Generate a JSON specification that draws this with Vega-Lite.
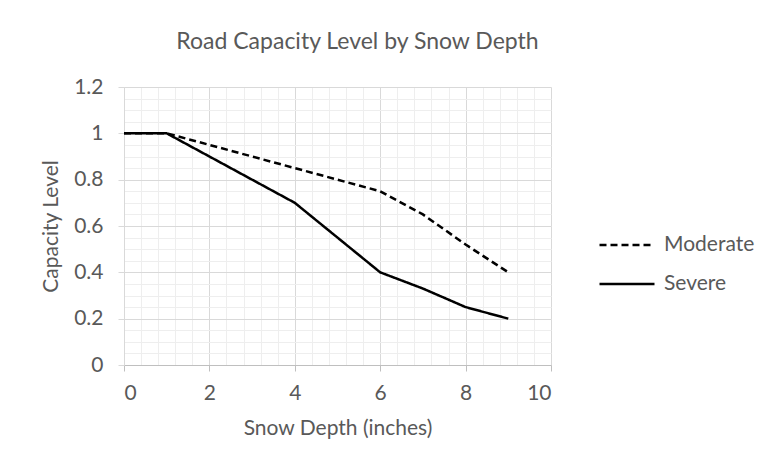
{
  "$schema": "https://vega.github.io/schema/vega-lite/v6.json",
  "width": 427,
  "height": 278,
  "autosize": {"type": "none"},
  "padding": {"left": 124, "top": 87, "right": 218, "bottom": 101},
  "background": "white",
  "title": {"text": "Road Capacity Level by Snow Depth", "fontSize": 23, "font": "Lato", "fontWeight": "normal", "color": "#595959", "anchor": "middle", "dx": 20, "offset": 22},
  "config": {"view": {"stroke": null}, "font": "Lato"},
  "data": {"values": [
    {"depth": 0, "capacity": 1, "series": "Moderate"},
    {"depth": 1, "capacity": 1, "series": "Moderate"},
    {"depth": 2, "capacity": 0.95, "series": "Moderate"},
    {"depth": 4, "capacity": 0.85, "series": "Moderate"},
    {"depth": 6, "capacity": 0.75, "series": "Moderate"},
    {"depth": 7, "capacity": 0.65, "series": "Moderate"},
    {"depth": 8, "capacity": 0.52, "series": "Moderate"},
    {"depth": 9, "capacity": 0.4, "series": "Moderate"},
    {"depth": 0, "capacity": 1, "series": "Severe"},
    {"depth": 1, "capacity": 1, "series": "Severe"},
    {"depth": 2, "capacity": 0.9, "series": "Severe"},
    {"depth": 4, "capacity": 0.7, "series": "Severe"},
    {"depth": 6, "capacity": 0.4, "series": "Severe"},
    {"depth": 7, "capacity": 0.33, "series": "Severe"},
    {"depth": 8, "capacity": 0.25, "series": "Severe"},
    {"depth": 9, "capacity": 0.2, "series": "Severe"}
  ]},
  "layer": [
    {
      "mark": {"type": "line", "opacity": 0},
      "encoding": {
        "x": {"field": "depth", "type": "quantitative", "scale": {"domain": [0, 10], "nice": false},
          "axis": {"orient": "bottom", "values": [0,0.4,0.8,1.2,1.6,2,2.4,2.8,3.2,3.6,4,4.4,4.8,5.2,5.6,6,6.4,6.8,7.2,7.6,8,8.4,8.8,9.2,9.6,10],
            "grid": true, "gridColor": "#eeeeee", "gridWidth": 1, "labels": false, "ticks": false, "domain": false, "title": null, "zindex": 0}},
        "y": {"field": "capacity", "type": "quantitative", "scale": {"domain": [0, 1.2], "nice": false},
          "axis": {"orient": "left", "values": [0,0.05,0.1,0.15,0.2,0.25,0.3,0.35,0.4,0.45,0.5,0.55,0.6,0.65,0.7,0.75,0.8,0.85,0.9,0.95,1,1.05,1.1,1.15,1.2],
            "grid": true, "gridColor": "#eeeeee", "gridWidth": 1, "labels": false, "ticks": false, "domain": false, "title": null, "zindex": 0}},
        "detail": {"field": "series"}
      }
    },
    {
      "mark": {"type": "line", "color": "black", "strokeWidth": 2.5},
      "encoding": {
        "x": {"field": "depth", "type": "quantitative", "scale": {"domain": [0, 10], "nice": false},
          "axis": {"orient": "bottom", "values": [0, 2, 4, 6, 8, 10], "format": "d", "grid": true, "gridColor": "#d9d9d9", "gridWidth": 1,
            "domainColor": "#bfbfbf", "domainWidth": 1, "tickColor": "#bfbfbf", "tickSize": 6, "labelFontSize": 21, "labelColor": "#595959", "labelPadding": 11,
            "labelFont": "Lato", "title": "Snow Depth (inches)", "titleFont": "Lato", "titleFontSize": 21, "titleFontWeight": "normal", "titleColor": "#595959", "titlePadding": 14, "zindex": 0}},
        "y": {"field": "capacity", "type": "quantitative", "scale": {"domain": [0, 1.2], "nice": false},
          "axis": {"orient": "left", "values": [0, 0.2, 0.4, 0.6, 0.8, 1, 1.2], "format": "~g", "grid": true, "gridColor": "#d9d9d9", "gridWidth": 1,
            "domainColor": "#d9d9d9", "domainWidth": 1, "tickColor": "#d9d9d9", "tickSize": 6, "labelFontSize": 21, "labelColor": "#595959", "labelPadding": 15,
            "labelFont": "Lato", "title": "Capacity Level", "titleFont": "Lato", "titleFontSize": 21, "titleFontWeight": "normal", "titleColor": "#595959", "titlePadding": 12, "zindex": 0}},
        "strokeDash": {"field": "series", "type": "nominal",
          "scale": {"domain": ["Moderate", "Severe"], "range": [[7, 4], [1, 0]]},
          "legend": {"title": null, "orient": "none", "legendX": 474, "legendY": 129, "symbolType": "stroke", "symbolSize": 3025,
            "symbolStrokeWidth": 2.5, "symbolStrokeColor": "black", "labelFontSize": 21, "labelColor": "#595959", "labelFont": "Lato",
            "labelOffset": 8, "rowPadding": -14, "labelLimit": 300}}
      }
    }
  ],
  "resolve": {"axis": {"x": "independent", "y": "independent"}}
}
